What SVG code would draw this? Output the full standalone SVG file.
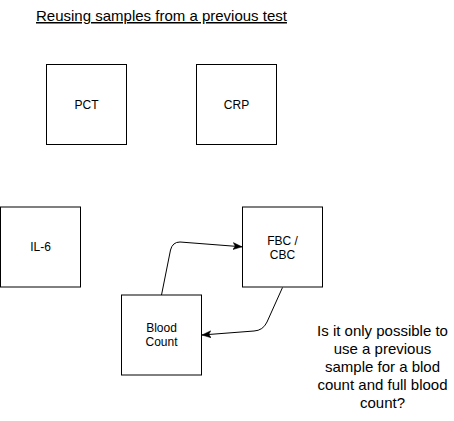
<svg xmlns="http://www.w3.org/2000/svg" width="454" height="421" viewBox="0 0 454 421">
<style>
.box{fill:#ffffff;stroke:#000000;stroke-width:1}
.lbl{font-family:"Liberation Sans",Arial,Helvetica,sans-serif;font-size:12px;fill:#000000;text-anchor:middle}
.edge{fill:none;stroke:#000000;stroke-width:1}
.note{font-family:"Liberation Sans",Arial,Helvetica,sans-serif;font-size:15px;fill:#000000;text-anchor:middle}
</style>
<defs>
<marker id="arr" markerUnits="userSpaceOnUse" markerWidth="10" markerHeight="8" refX="9" refY="4" orient="auto">
<path d="M0,0.5 L9,4 L0,7.5 L2.2,4 Z" fill="#000000" stroke="#000000" stroke-width="0.5"/>
</marker>
</defs>
<rect width="454" height="421" fill="#ffffff"/>
<g id="title">
<text x="161.5" y="21" font-family="'Liberation Sans',Arial,Helvetica,sans-serif" font-size="15" text-anchor="middle" text-decoration="underline" fill="#000000">Reusing samples from a previous test</text>
</g>
<g id="connectors">
<path class="edge" d="M161.5,295 L170.5,250 Q172.5,242 180,242 L242,246.8" marker-end="url(#arr)"/>
<path class="edge" d="M282.5,287.5 L267,322 Q263,330.5 254,331 L202,335" marker-end="url(#arr)"/>
</g>
<g id="pct">
<rect class="box" x="46.5" y="64.5" width="80" height="80"/>
<text class="lbl" x="86.5" y="108.5">PCT</text>
</g>
<g id="crp">
<rect class="box" x="196.5" y="64.5" width="80" height="80"/>
<text class="lbl" x="236.5" y="108.5">CRP</text>
</g>
<g id="il6">
<rect class="box" x="0.5" y="207" width="80" height="80"/>
<text class="lbl" x="40.5" y="251">IL-6</text>
</g>
<g id="fbc">
<rect class="box" x="242.5" y="207" width="80" height="80"/>
<text class="lbl" x="282.5" y="245"><tspan x="282.5" y="245">FBC /</tspan><tspan x="282.5" y="259">CBC</tspan></text>
</g>
<g id="blood">
<rect class="box" x="121.5" y="295" width="80" height="80"/>
<text class="lbl" x="161.5" y="332"><tspan x="161.5" y="332">Blood</tspan><tspan x="161.5" y="346">Count</tspan></text>
</g>
<g id="question">
<text class="note"><tspan x="382.5" y="336">Is it only possible to</tspan><tspan x="382.5" y="354">use a previous</tspan><tspan x="382.5" y="372">sample for a blod</tspan><tspan x="382.5" y="390">count and full blood</tspan><tspan x="382.5" y="408">count?</tspan></text>
</g>
</svg>
